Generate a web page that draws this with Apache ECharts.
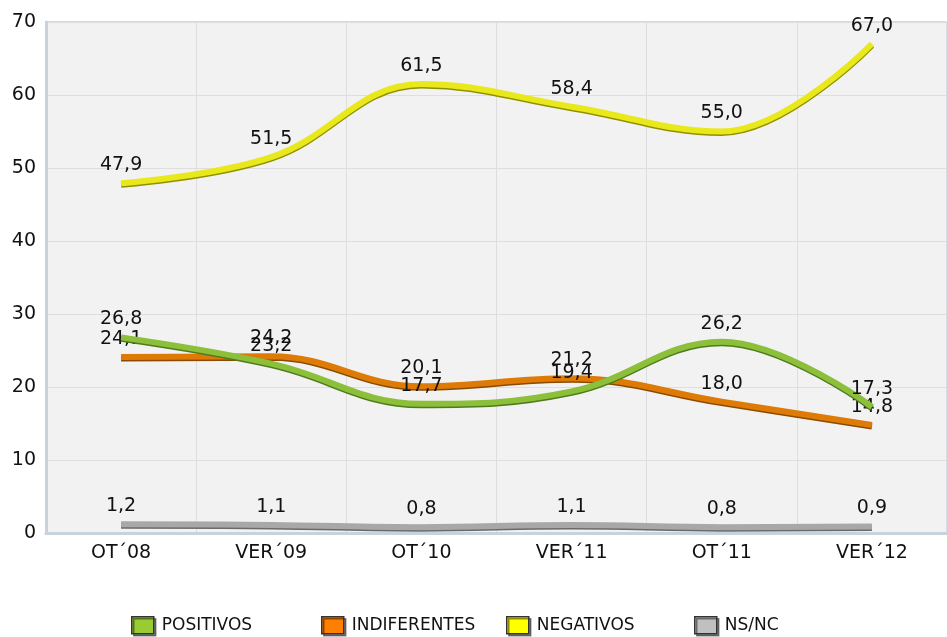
<!DOCTYPE html>
<html>
<head>
<meta charset="utf-8">
<script src="https://cdn.jsdelivr.net/npm/echarts@6/dist/echarts.min.js"></script>
<style>
  html, body { margin: 0; padding: 0; background: #fff; }
  #chart { width: 947px; height: 637px; }
</style>
</head>
<body>
<div id="chart"></div>
<script>
var categories = ["OT\u00b408", "VER\u00b409", "OT\u00b410", "VER\u00b411", "OT\u00b411", "VER\u00b412"];
var positivos = [26.8, 23.2, 17.7, 19.4, 26.2, 17.3];
var indiferentes = [24.1, 24.2, 20.1, 21.2, 18.0, 14.8];
var negativos = [47.9, 51.5, 61.5, 58.4, 55.0, 67.0];
var nsnc = [1.2, 1.1, 0.8, 1.1, 0.8, 0.9];
var yTicks = [0, 10, 20, 30, 40, 50, 60, 70];
var seriesNames = ["POSITIVOS", "INDIFERENTES", "NEGATIVOS", "NS/NC"];
var legendColors = ["#99cc33", "#ff7f00", "#ffff00", "#c0c0c0"];

var fontName = "DejaVu Sans, sans-serif";

// etiqueta con coma decimal
function fmt(p) {
    return p.value.toFixed(1).replace(".", ",");
}

function makeSeries(name, data, lineColor, edgeColor, z) {
    return {
        name : name,
        type : "line",
        smooth : 0.4,
        symbol : "circle",
        symbolSize : 1,
        showSymbol : true,
        z : z,
        data : data,
        lineStyle : {
            width : 6,
            color : lineColor,
            shadowColor : edgeColor,
            shadowBlur : 0,
            shadowOffsetY : 1.5
        },
        label : {
            show : true,
            position : "top",
            distance : 8,
            color : "#111",
            fontSize : 19,
            fontFamily : fontName,
            formatter : fmt
        },
        itemStyle : {
            color : "transparent",
            borderWidth : 0
        }
    };
}

// una leyenda por serie para respetar las posiciones del original
var legendLefts = [126, 316, 501, 689];
var legends = [];
for (var i = 0; i < seriesNames.length; i++) {
    legends.push({
        data : [ {
            name : seriesNames[i],
            itemStyle : {
                color : legendColors[i],
                borderColor : "#333",
                borderWidth : 1.5,
                opacity : 1,
                shadowColor : "rgba(0,0,0,0.45)",
                shadowOffsetX : 2,
                shadowOffsetY : 2
            }
        } ],
        left : legendLefts[i],
        top : 611,
        icon : "rect",
        itemWidth : 22,
        itemHeight : 17,
        itemGap : 0,
        textStyle : {
            color : "#111",
            fontSize : 17,
            padding : [0, 0, 0, 3],
            fontFamily : fontName
        }
    });
}

var chart = echarts.init(document.getElementById("chart"));

var option = {
    animation : false,
    backgroundColor : "#ffffff",
    grid : {
        show : true,
        left : 46,
        right : -10,
        top : 22,
        bottom : 104,
        backgroundColor : "#f2f2f2",
        borderColor : "#d5dce6",
        borderWidth : 2
    },
    legend : legends,
    xAxis : {
        type : "category",
        data : categories,
        boundaryGap : true,
        axisLine : { show : true, lineStyle : { color : "#c8d2df", width : 3 } },
        axisTick : { show : false },
        splitLine : { show : true, lineStyle : { color : "#dedede", width : 1 } },
        axisLabel : {
            color : "#111",
            fontSize : 19,
            margin : 11,
            fontFamily : fontName
        }
    },
    yAxis : {
        type : "value",
        min : yTicks[0],
        max : yTicks[yTicks.length - 1],
        interval : 10,
        axisLine : { show : true, lineStyle : { color : "#c8d2df", width : 3 } },
        axisTick : { show : false },
        splitLine : { show : true, lineStyle : { color : "#dedede", width : 1 } },
        axisLabel : {
            color : "#111",
            fontSize : 19,
            margin : 10,
            fontFamily : fontName
        }
    },
    series : [
        makeSeries(seriesNames[0], positivos, "#8cbf3a", "#4f7a1e", 4),
        makeSeries(seriesNames[1], indiferentes, "#de7a06", "#8a4a00", 3),
        makeSeries(seriesNames[2], negativos, "#e8e81a", "#8f8f00", 2),
        makeSeries(seriesNames[3], nsnc, "#a8a8a8", "#6a6a6a", 1)
    ]
};

chart.setOption(option);
</script>
</body>
</html>
